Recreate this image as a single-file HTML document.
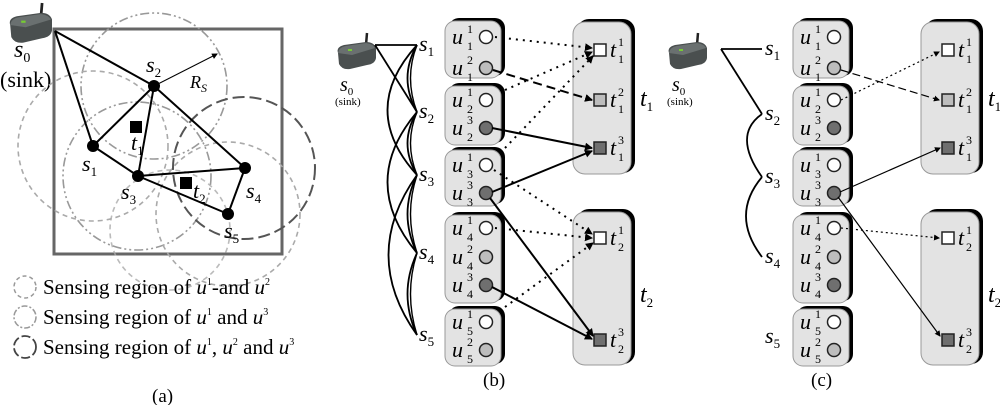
<!DOCTYPE html>
<html><head><meta charset="utf-8"><style>
html,body{margin:0;padding:0;background:#fff;}
svg{display:block;font-family:"Liberation Serif",serif;}
.i{font-style:italic;}
</style></head><body>
<svg width="1000" height="405" viewBox="0 0 1000 405" xmlns="http://www.w3.org/2000/svg">
<defs>
<marker id="ar" markerWidth="8" markerHeight="8" refX="7" refY="4" orient="auto" markerUnits="userSpaceOnUse"><path d="M0,0 L8,4 L0,8 z" fill="#000"/></marker>
<marker id="ar2" markerWidth="6" markerHeight="6" refX="5" refY="3" orient="auto" markerUnits="userSpaceOnUse"><path d="M0,0 L6,3 L0,6 z" fill="#000"/></marker>
<g id="dev">
<line x1="31" y1="0" x2="30" y2="12" stroke="#222" stroke-width="2.5"/>
<path d="M2,20 Q0,14 8,12 L30,9 Q38,9 40,15 L40,25 Q39,31 31,32 L14,36 Q6,37 3,31 Z" fill="#4a4f4f"/>
<path d="M2,20 Q3,14 10,13 L30,10 Q37,11 39,15 L16,22 Z" fill="#6a7070"/>
<rect x="12" y="16" width="4" height="2" fill="#7c3"/>
</g>
</defs>

<!-- ===== Panel (a) ===== -->
<use href="#dev" x="0" y="0" transform="translate(8,3) scale(1.1)"/>
<text x="14" y="57" font-size="24" class="i">s<tspan font-size="14" font-style="normal" dy="5">0</tspan></text>
<text x="0" y="87" font-size="22">(sink)</text>
<rect x="54" y="29" width="228" height="225" fill="none" stroke="#666" stroke-width="3"/>
<g fill="none" stroke-width="1.6">
<circle cx="154" cy="86" r="73" stroke="#999" stroke-dasharray="9,3,2,3,2,3"/>
<circle cx="137" cy="176" r="74" stroke="#999" stroke-dasharray="9,3,2,3,2,3"/>
<circle cx="93" cy="146" r="75" stroke="#aaa" stroke-dasharray="5,4"/>
<circle cx="228" cy="214" r="72" stroke="#aaa" stroke-dasharray="5,4"/>
<circle cx="170" cy="230" r="60" stroke="#aaa" stroke-dasharray="5,4" opacity="0.8"/>
<circle cx="244" cy="168" r="71" stroke="#555" stroke-dasharray="12,5" stroke-width="2"/>
</g>
<g stroke="#000" stroke-width="2" fill="none">
<line x1="55" y1="31" x2="154" y2="86"/>
<line x1="55" y1="31" x2="93" y2="146"/>
<line x1="93" y1="146" x2="154" y2="86"/>
<line x1="93" y1="146" x2="138" y2="176"/>
<line x1="154" y1="86" x2="138" y2="176"/>
<line x1="154" y1="86" x2="245" y2="168"/>
<line x1="138" y1="176" x2="245" y2="168"/>
<line x1="138" y1="176" x2="228" y2="214"/>
<line x1="245" y1="168" x2="228" y2="214"/>
</g>
<line x1="154" y1="86" x2="217" y2="54" stroke="#000" stroke-width="1" marker-end="url(#ar2)"/>
<g fill="#000">
<circle cx="154" cy="86" r="6"/><circle cx="93" cy="146" r="6"/><circle cx="138" cy="176" r="6"/><circle cx="245" cy="168" r="6"/><circle cx="228" cy="214" r="6"/>
<rect x="130" y="121" width="12" height="12"/><rect x="180" y="177" width="12" height="12"/>
</g>
<g font-size="22" class="i">
<text x="146" y="72">s<tspan font-size="13" font-style="normal" dy="5">2</tspan></text>
<text x="190" y="88" font-size="18">R<tspan font-size="12" dy="4">S</tspan></text>
<text x="82" y="171">s<tspan font-size="13" font-style="normal" dy="5">1</tspan></text>
<text x="131" y="150">t<tspan font-size="13" font-style="normal" dy="5">1</tspan></text>
<text x="121" y="199">s<tspan font-size="13" font-style="normal" dy="5">3</tspan></text>
<text x="193" y="198">t<tspan font-size="13" font-style="normal" dy="5">2</tspan></text>
<text x="246" y="198">s<tspan font-size="13" font-style="normal" dy="5">4</tspan></text>
<text x="224" y="238">s<tspan font-size="13" font-style="normal" dy="5">5</tspan></text>
</g>
<circle cx="25" cy="287" r="11" fill="none" stroke="#999" stroke-width="1.5" stroke-dasharray="4,3"/>
<circle cx="25" cy="317" r="11" fill="none" stroke="#999" stroke-width="1.5" stroke-dasharray="6,2,2,2"/>
<circle cx="25" cy="347" r="11" fill="none" stroke="#444" stroke-width="1.8" stroke-dasharray="9,3"/>
<g font-size="21">
<text x="43" y="294">Sensing region of <tspan class="i">u</tspan><tspan font-size="10" dy="-9">1</tspan><tspan dy="9">-and </tspan><tspan class="i">u</tspan><tspan font-size="10" dy="-9">2</tspan></text>
<text x="43" y="324">Sensing region of <tspan class="i">u</tspan><tspan font-size="10" dy="-9">1</tspan><tspan dy="9"> and </tspan><tspan class="i">u</tspan><tspan font-size="10" dy="-9">3</tspan></text>
<text x="43" y="354">Sensing region of <tspan class="i">u</tspan><tspan font-size="10" dy="-9">1</tspan><tspan dy="9">, </tspan><tspan class="i">u</tspan><tspan font-size="10" dy="-9">2</tspan><tspan dy="9"> and </tspan><tspan class="i">u</tspan><tspan font-size="10" dy="-9">3</tspan></text>
</g>
<text x="152" y="402" font-size="19">(a)</text>

<!-- ===== Panel (b) ===== -->
<use href="#dev" x="336" y="33"/>
<text x="340" y="91" font-size="20" class="i">s<tspan font-size="11" font-style="normal" dy="4">0</tspan></text>
<text x="335" y="105" font-size="11">(sink)</text>
<g stroke="#000" stroke-width="1.8" fill="none">
<line x1="375" y1="45" x2="417" y2="45"/>
<line x1="375" y1="45" x2="417" y2="112"/>
<path d="M417,45 Q398,78 417,112"/>
<path d="M417,45 Q404,78 417,112" stroke-width="1.4"/>
<path d="M417,45 Q358,110 417,175"/>
<path d="M417,112 Q398,143 417,175"/>
<path d="M417,112 Q404,143 417,175" stroke-width="1.4"/>
<path d="M417,112 Q358,182 417,253"/>
<path d="M417,175 Q398,214 417,253"/>
<path d="M417,175 Q404,214 417,253" stroke-width="1.4"/>
<path d="M417,175 Q360,255 417,335"/>
<path d="M417,253 Q398,294 417,335"/>
<path d="M417,253 Q404,294 417,335" stroke-width="1.4"/>
</g>
<g font-size="22" class="i">
<text x="419" y="51">s<tspan font-size="13" font-style="normal" dy="5">1</tspan></text>
<text x="419" y="118">s<tspan font-size="13" font-style="normal" dy="5">2</tspan></text>
<text x="419" y="181">s<tspan font-size="13" font-style="normal" dy="5">3</tspan></text>
<text x="419" y="259">s<tspan font-size="13" font-style="normal" dy="5">4</tspan></text>
<text x="419" y="341">s<tspan font-size="13" font-style="normal" dy="5">5</tspan></text>
</g>

<g id="boxes">
<g stroke-width="1">
<rect x="449" y="18" width="56" height="58" rx="10" fill="#000"/>
<rect x="445" y="21" width="56" height="57" rx="10" fill="#e3e3e3" stroke="#999"/>
<rect x="449" y="83" width="56" height="60" rx="10" fill="#000"/>
<rect x="445" y="86" width="56" height="59" rx="10" fill="#e3e3e3" stroke="#999"/>
<rect x="449" y="147" width="56" height="57" rx="10" fill="#000"/>
<rect x="445" y="150" width="56" height="56" rx="10" fill="#e3e3e3" stroke="#999"/>
<rect x="449" y="212" width="56" height="89" rx="10" fill="#000"/>
<rect x="445" y="215" width="56" height="88" rx="10" fill="#e3e3e3" stroke="#999"/>
<rect x="449" y="306" width="56" height="58" rx="10" fill="#000"/>
<rect x="445" y="309" width="56" height="57" rx="10" fill="#e3e3e3" stroke="#999"/>
<rect x="577" y="19" width="58" height="154" rx="12" fill="#000"/>
<rect x="573" y="22" width="58" height="152" rx="12" fill="#e3e3e3" stroke="#999"/>
<rect x="577" y="209" width="58" height="155" rx="12" fill="#000"/>
<rect x="573" y="212" width="58" height="153" rx="12" fill="#e3e3e3" stroke="#999"/>
</g>
<g stroke="#222" stroke-width="1.5">
<circle cx="486" cy="37" r="6.5" fill="#fff"/><circle cx="486" cy="68" r="6.5" fill="#bdbdbd"/>
<circle cx="486" cy="100" r="6.5" fill="#fff"/><circle cx="486" cy="128" r="6.5" fill="#6f6f6f"/>
<circle cx="486" cy="165" r="6.5" fill="#fff"/><circle cx="486" cy="193" r="6.5" fill="#6f6f6f"/>
<circle cx="486" cy="228" r="6.5" fill="#fff"/><circle cx="486" cy="257" r="6.5" fill="#bdbdbd"/><circle cx="486" cy="285" r="6.5" fill="#6f6f6f"/>
<circle cx="486" cy="322" r="6.5" fill="#fff"/><circle cx="486" cy="350" r="6.5" fill="#bdbdbd"/>
<rect x="594" y="44" width="12" height="12" fill="#fff"/>
<rect x="594" y="94" width="12" height="12" fill="#bdbdbd"/>
<rect x="594" y="142" width="12" height="12" fill="#6f6f6f"/>
<rect x="594" y="232" width="12" height="12" fill="#fff"/>
<rect x="594" y="334" width="12" height="12" fill="#6f6f6f"/>
</g>
<g font-size="22" class="i">
<text x="452" y="44">u<tspan x="467" dy="-11" font-size="12" font-style="normal">1</tspan><tspan x="467" dy="17" font-size="12" font-style="normal">1</tspan></text>
<text x="452" y="75">u<tspan x="467" dy="-11" font-size="12" font-style="normal">2</tspan><tspan x="467" dy="17" font-size="12" font-style="normal">1</tspan></text>
<text x="452" y="107">u<tspan x="467" dy="-11" font-size="12" font-style="normal">1</tspan><tspan x="467" dy="17" font-size="12" font-style="normal">2</tspan></text>
<text x="452" y="135">u<tspan x="467" dy="-11" font-size="12" font-style="normal">3</tspan><tspan x="467" dy="17" font-size="12" font-style="normal">2</tspan></text>
<text x="452" y="172">u<tspan x="467" dy="-11" font-size="12" font-style="normal">1</tspan><tspan x="467" dy="17" font-size="12" font-style="normal">3</tspan></text>
<text x="452" y="200">u<tspan x="467" dy="-11" font-size="12" font-style="normal">3</tspan><tspan x="467" dy="17" font-size="12" font-style="normal">3</tspan></text>
<text x="452" y="235">u<tspan x="467" dy="-11" font-size="12" font-style="normal">1</tspan><tspan x="467" dy="17" font-size="12" font-style="normal">4</tspan></text>
<text x="452" y="264">u<tspan x="467" dy="-11" font-size="12" font-style="normal">2</tspan><tspan x="467" dy="17" font-size="12" font-style="normal">4</tspan></text>
<text x="452" y="292">u<tspan x="467" dy="-11" font-size="12" font-style="normal">3</tspan><tspan x="467" dy="17" font-size="12" font-style="normal">4</tspan></text>
<text x="452" y="329">u<tspan x="467" dy="-11" font-size="12" font-style="normal">1</tspan><tspan x="467" dy="17" font-size="12" font-style="normal">5</tspan></text>
<text x="452" y="357">u<tspan x="467" dy="-11" font-size="12" font-style="normal">2</tspan><tspan x="467" dy="17" font-size="12" font-style="normal">5</tspan></text>
<text x="610" y="57">t<tspan x="618" dy="-11" font-size="12" font-style="normal">1</tspan><tspan x="618" dy="17" font-size="12" font-style="normal">1</tspan></text>
<text x="610" y="107">t<tspan x="618" dy="-11" font-size="12" font-style="normal">2</tspan><tspan x="618" dy="17" font-size="12" font-style="normal">1</tspan></text>
<text x="610" y="155">t<tspan x="618" dy="-11" font-size="12" font-style="normal">3</tspan><tspan x="618" dy="17" font-size="12" font-style="normal">1</tspan></text>
<text x="610" y="245">t<tspan x="618" dy="-11" font-size="12" font-style="normal">1</tspan><tspan x="618" dy="17" font-size="12" font-style="normal">2</tspan></text>
<text x="610" y="347">t<tspan x="618" dy="-11" font-size="12" font-style="normal">3</tspan><tspan x="618" dy="17" font-size="12" font-style="normal">2</tspan></text>
<text x="640" y="106" font-size="24">t<tspan font-size="13" font-style="normal" dy="5">1</tspan></text>
<text x="640" y="302" font-size="24">t<tspan font-size="13" font-style="normal" dy="5">2</tspan></text>
</g>
</g>

<g stroke="#000" fill="none">
<g stroke-width="2" stroke-dasharray="2,5">
<line x1="495" y1="37" x2="592" y2="48" marker-end="url(#ar)"/>
<line x1="505" y1="90" x2="592" y2="52" marker-end="url(#ar)"/>
<line x1="505" y1="148" x2="593" y2="56" marker-end="url(#ar)"/>
<line x1="494" y1="170" x2="592" y2="234" marker-end="url(#ar)"/>
<line x1="495" y1="228" x2="592" y2="238" marker-end="url(#ar)"/>
<line x1="505" y1="307" x2="593" y2="243" marker-end="url(#ar)"/>
</g>
<line x1="493" y1="70" x2="592" y2="100" stroke-width="2" stroke-dasharray="9,5" marker-end="url(#ar)"/>
<g stroke-width="2">
<line x1="492" y1="128" x2="592" y2="148" marker-end="url(#ar)"/>
<line x1="492" y1="192" x2="592" y2="151" marker-end="url(#ar)"/>
<line x1="490" y1="198" x2="593" y2="336" marker-end="url(#ar)"/>
<line x1="492" y1="287" x2="592" y2="339" marker-end="url(#ar)"/>
</g>
</g>
<text x="483" y="386" font-size="19">(b)</text>

<!-- ===== Panel (c) ===== -->
<use href="#dev" x="667" y="33"/>
<text x="672" y="91" font-size="20" class="i">s<tspan font-size="11" font-style="normal" dy="4">0</tspan></text>
<text x="667" y="105" font-size="11">(sink)</text>
<g stroke="#000" stroke-width="1.8" fill="none">
<line x1="721" y1="49" x2="762" y2="49"/>
<line x1="721" y1="49" x2="762" y2="114"/>
<path d="M762,114 Q732,135 762,177"/>
<path d="M762,177 Q730,215 762,257"/>
</g>
<g font-size="22" class="i">
<text x="765" y="55">s<tspan font-size="13" font-style="normal" dy="5">1</tspan></text>
<text x="765" y="120">s<tspan font-size="13" font-style="normal" dy="5">2</tspan></text>
<text x="765" y="183">s<tspan font-size="13" font-style="normal" dy="5">3</tspan></text>
<text x="765" y="263">s<tspan font-size="13" font-style="normal" dy="5">4</tspan></text>
<text x="765" y="343">s<tspan font-size="13" font-style="normal" dy="5">5</tspan></text>
</g>
<use href="#boxes" x="348" y="0"/>
<g stroke="#000" fill="none" stroke-width="1.2">
<line x1="841" y1="100" x2="939" y2="52" stroke-dasharray="2,3" marker-end="url(#ar2)"/>
<line x1="841" y1="70" x2="939" y2="100" stroke-dasharray="8,4" marker-end="url(#ar2)"/>
<line x1="840" y1="192" x2="940" y2="148" marker-end="url(#ar2)"/>
<line x1="838" y1="197" x2="940" y2="336" marker-end="url(#ar2)"/>
<line x1="841" y1="228" x2="939" y2="238" stroke-dasharray="2,3" marker-end="url(#ar2)"/>
</g>
<text x="811" y="386" font-size="19">(c)</text>
</svg>
</body></html>
